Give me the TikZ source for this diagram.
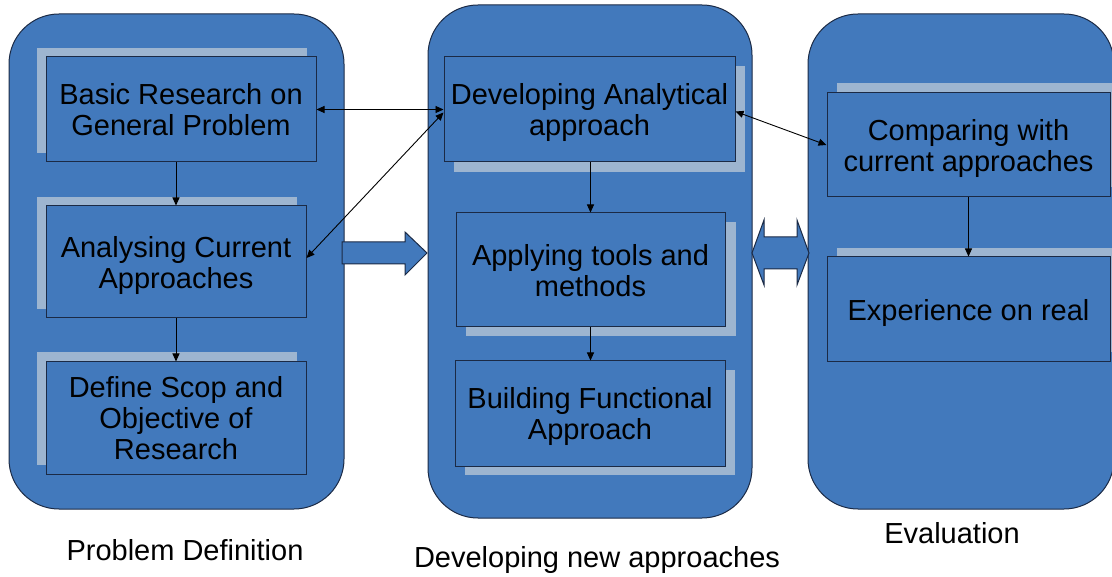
\documentclass[tikz,border=0pt]{standalone}
\usepackage{fontspec}
\setmainfont{Liberation Sans}
\usetikzlibrary{arrows.meta}
\definecolor{colfill}{HTML}{4279BC}
\definecolor{shadowc}{HTML}{9DB5D0}
\definecolor{edgec}{HTML}{1B2A45}
\tikzset{
  column/.style={draw=edgec, line width=1pt, fill=colfill, rounded corners=50pt, minimum width=#1, inner sep=0pt},
  ibox/.style={draw=edgec, line width=1pt, fill=colfill, inner sep=0pt, align=center, text depth=0pt, font=\fontsize{29}{31}\selectfont},
  lbl/.style={font=\fontsize{29}{31}\selectfont, inner sep=0pt},
  arr/.style={-{Triangle[length=8pt,width=7pt]}, line width=0.9pt, black},
  darr/.style={{Triangle[length=8pt,width=7pt]}-{Triangle[length=8pt,width=7pt]}, line width=0.9pt, black},
  blockarr/.style={draw=edgec, line width=1pt, fill=colfill, line join=miter},
  shade/.style={fill=shadowc}
}
\begin{document}
\begin{tikzpicture}[x=1pt,y=-1pt]
\useasboundingbox (0,0) rectangle (1112,577);
\clip (0,0) rectangle (1112,577);
% columns
\node[column=335pt, minimum height=495pt] (c1) at (176.5,261.5) {};
\node[column=324pt, minimum height=513pt] (c2) at (590,261.5) {};
\node[column=306pt, minimum height=495pt] (c3) at (961,261.5) {};
% block arrows
\draw[blockarr] (342,242) -- (405,242) -- (405,232) -- (427,253) -- (405,275) -- (405,264) -- (342,264) -- cycle;
\draw[blockarr] (752,253) -- (764,220) -- (764,237) -- (797,237) -- (797,220) -- (809,253) -- (797,285) -- (797,269) -- (764,269) -- (764,285) -- cycle;
% shadows
\fill[shade] (37,48) rectangle (307,153);
\fill[shade] (37,197) rectangle (297,309);
\fill[shade] (37,352) rectangle (297,465);
\fill[shade] (454,66) rectangle (745,172);
\fill[shade] (466,222) rectangle (736,336);
\fill[shade] (465,370) rectangle (735,475);
\fill[shade] (837,83) rectangle (1125,187);
\fill[shade] (837,248) rectangle (1125,352);
% inner boxes
\node[ibox, minimum width=270pt, minimum height=105pt] (b1) at (181,109.5) {Basic Research on\\General Problem};
\node[ibox, minimum width=260pt, minimum height=112pt] (b2) at (176,262) {Analysing Current\\Approaches};
\node[ibox, minimum width=260pt, minimum height=112pt] (b3) at (176,418) {Define Scop and\\Objective of\\Research};
\node[ibox, minimum width=291pt, minimum height=105pt] (b4) at (589.5,109.5) {Developing Analytical\\approach};
\node[ibox, minimum width=269pt, minimum height=114pt] (b5) at (590.5,270) {Applying tools and\\methods};
\node[ibox, minimum width=270pt, minimum height=105pt] (b6) at (590,413.5) {Building Functional\\Approach};
\node[ibox, minimum width=283pt, minimum height=104pt] (b7) at (968.5,145) {Comparing with\\current approaches};
\node[ibox, minimum width=283pt, minimum height=105pt] (b8) at (968.5,309.5) {Experience on real};
% connectors
\draw[arr] (b1.south -| b2.north) -- (b2.north);
\draw[arr] (b2.south) -- (b3.north);
\draw[arr] (b4.south -| b5.north) -- (b5.north);
\draw[arr] (b5.south -| b5.north) -- (b6.north -| b5.north);
\draw[arr] (b7.south) -- (b8.north);
\draw[darr] (b1.east) -- (b4.west);
\draw[darr] ([yshift=4pt]b2.east) -- ([yshift=-3pt]b4.west);
\draw[darr] ([yshift=-2pt]b4.east) -- (b7.west);
% labels
\node[lbl] (l1) at (185,550) {Problem Definition};
\node[lbl] (l2) at (597,560) {Developing new approaches};
\node[lbl] (l3) at (952,533) {Evaluation};
\end{tikzpicture}
\end{document}
